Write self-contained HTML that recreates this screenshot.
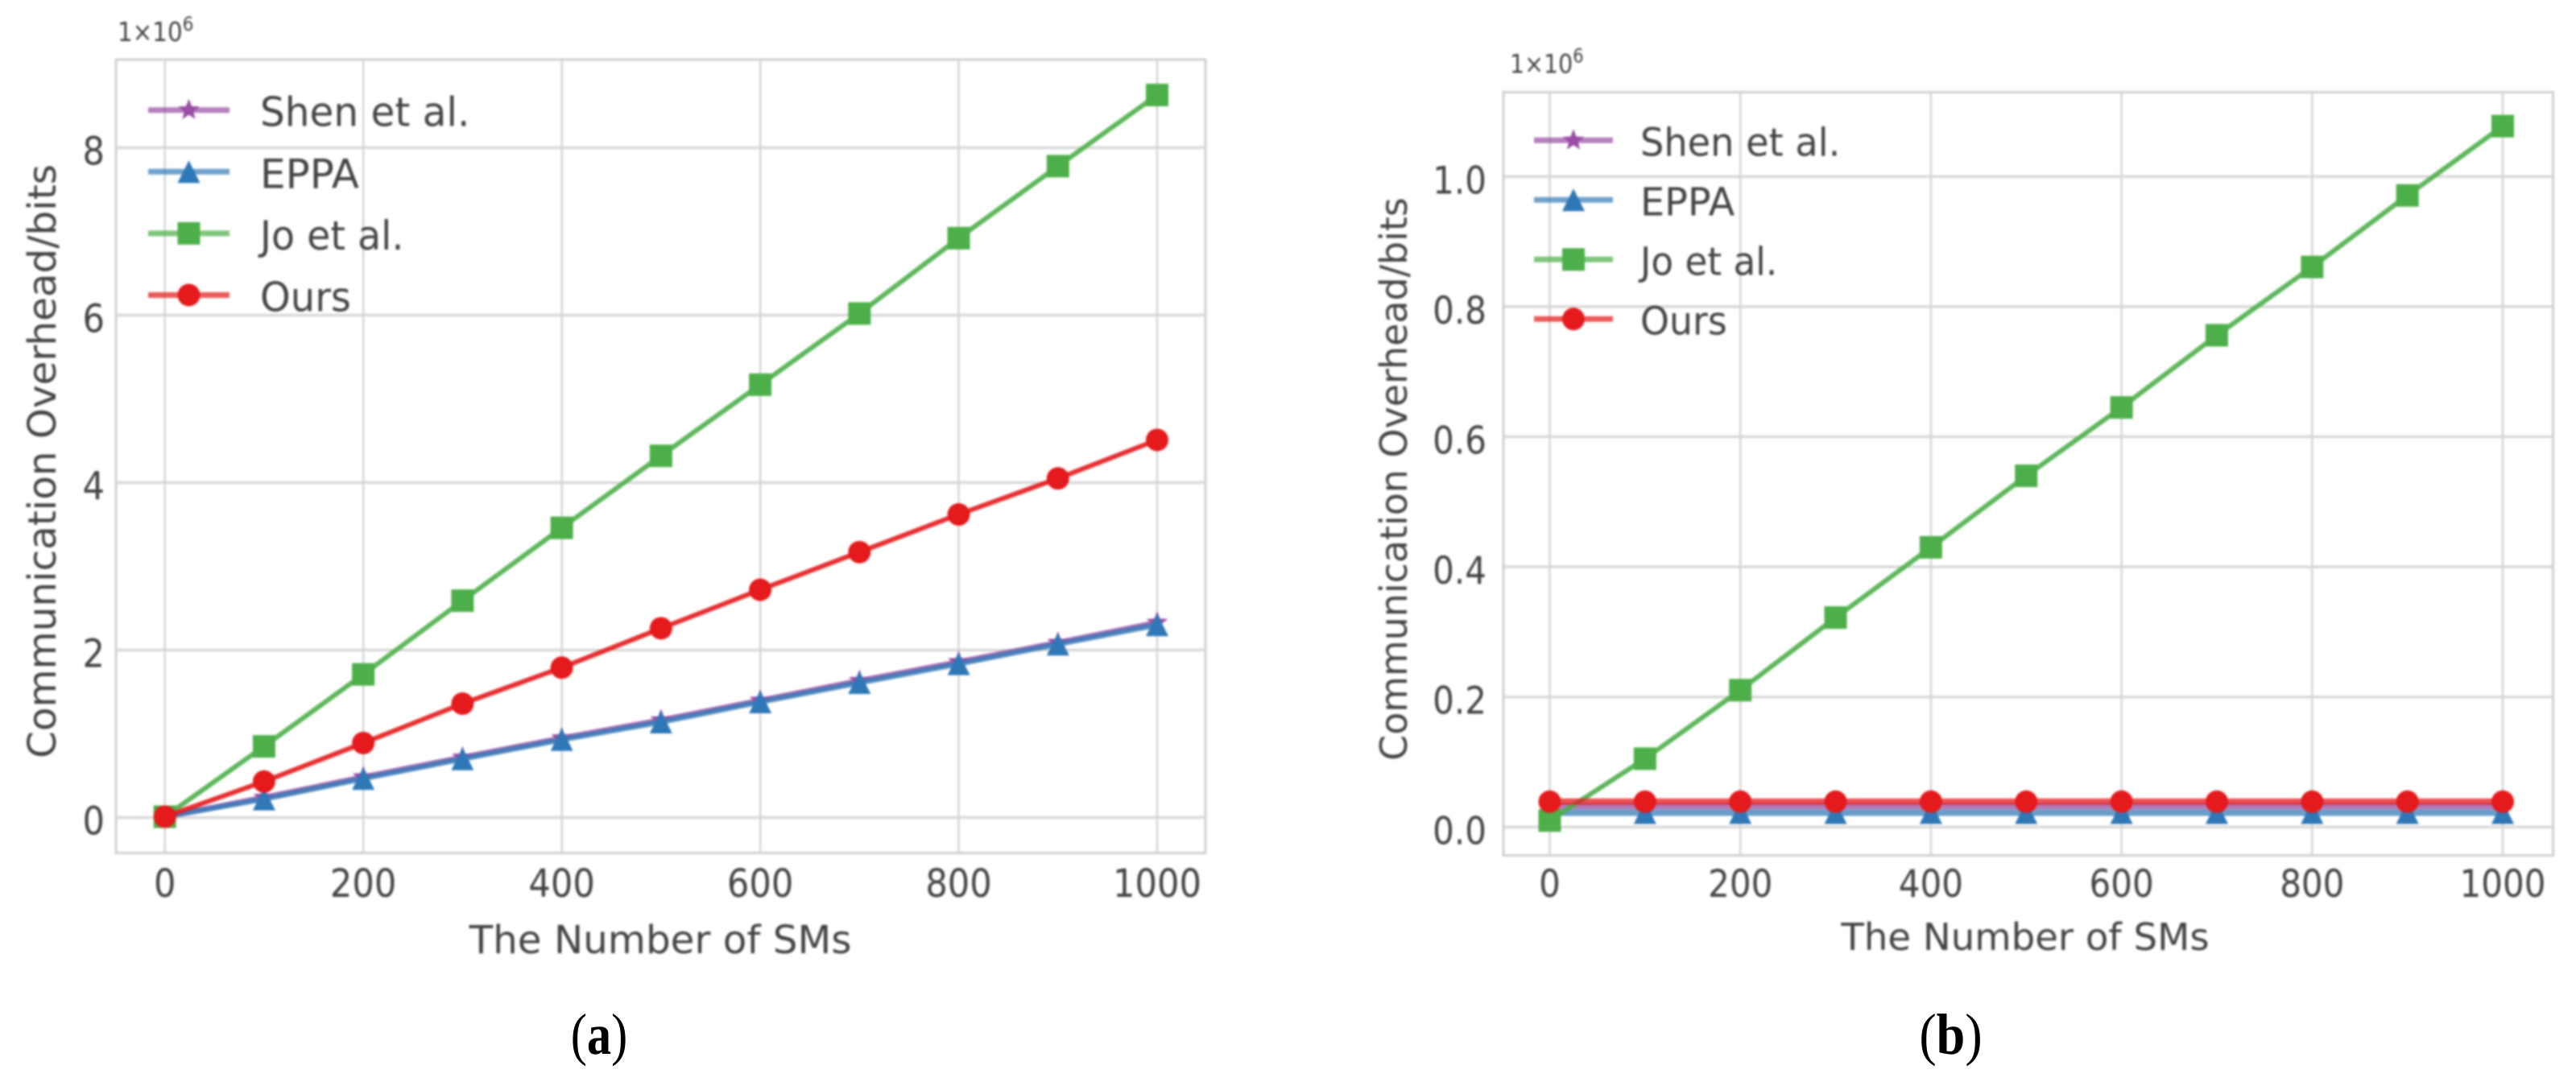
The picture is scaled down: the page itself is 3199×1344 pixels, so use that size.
<!DOCTYPE html>
<html lang="en">
<head>
<meta charset="utf-8">
<title>Communication overhead comparison</title>
<style>
  html, body { margin: 0; padding: 0; background: #ffffff; }
  #figure { display: block; width: 3199px; height: 1344px; }
  #figure text { font-family: "DejaVu Sans", "Liberation Sans", sans-serif; fill: #444444; }
  #figure text.caption { font-family: "Liberation Serif", serif; fill: #000000; }
  .soft { filter: blur(1.2px); }
</style>
</head>
<body>
<svg id="figure" xmlns="http://www.w3.org/2000/svg" width="3199" height="1344" viewBox="0 0 3199 1344">
  <rect x="0" y="0" width="3199" height="1344" fill="#ffffff"></rect>
  <g id="panel-a" class="soft"></g>
  <g id="panel-b" class="soft"></g>
  <text class="caption" transform="translate(744,1309) scale(0.84,1)" x="0" y="0" font-size="72" text-anchor="middle">(<tspan font-weight="bold">a</tspan>)</text>
  <text class="caption" transform="translate(2422.5,1309) scale(0.89,1)" x="0" y="0" font-size="72" text-anchor="middle">(<tspan font-weight="bold">b</tspan>)</text>
</svg>
<script>
// ---- data ----
const smCounts = [0, 100, 200, 300, 400, 500, 600, 700, 800, 900, 1000];
const xTickLabels = [0, 200, 400, 600, 800, 1000];
const seriesNames = ['Shen et al.', 'EPPA', 'Jo et al.', 'Ours'];

// Panel (a), in units of 1e6 bits
const panelAShen = [0.01, 0.24, 0.485, 0.72, 0.95, 1.165, 1.40, 1.635, 1.86, 2.09, 2.33];
const panelAEppa = [0.01, 0.22, 0.465, 0.70, 0.93, 1.14, 1.38, 1.61, 1.835, 2.07, 2.30];
const panelAJo = [0.01, 0.85, 1.71, 2.59, 3.46, 4.32, 5.17, 6.02, 6.92, 7.78, 8.63];
const panelAOurs = [0.01, 0.43, 0.89, 1.36, 1.79, 2.26, 2.72, 3.17, 3.62, 4.05, 4.51];
const panelAYTicks = ['0', '2', '4', '6', '8'];

// Panel (b), in units of 1e6 bits
const panelBShen = [0.032, 0.032, 0.032, 0.032, 0.032, 0.032, 0.032, 0.032, 0.032, 0.032, 0.032];
const panelBEppa = [0.022, 0.022, 0.022, 0.022, 0.022, 0.022, 0.022, 0.022, 0.022, 0.022, 0.022];
const panelBJo = [0.01, 0.105, 0.2104, 0.322, 0.43, 0.54, 0.645, 0.756, 0.861, 0.971, 1.0775];
const panelBOurs = [0.039, 0.039, 0.039, 0.039, 0.039, 0.039, 0.039, 0.039, 0.039, 0.039, 0.039];
const panelBYTicks = ['0.0', '0.2', '0.4', '0.6', '0.8', '1.0'];

// ---- drawing ----
const NS = 'http://www.w3.org/2000/svg';
const colors = ['#984ea3', '#377eb8', '#4daf4a', '#e41a1c'];
const markerColors = ['#984ea3', '#2f78b7', '#4daf4a', '#e41a1c'];
const shapes = ['star', 'triangle', 'square', 'circle'];
const slugs = ['shen', 'eppa', 'jo', 'ours'];
const legendSqueeze = [0.97, 1, 0.95, 0.96];

function make(parent, tag, attrs, content) {
  const el = document.createElementNS(NS, tag);
  for (const k in attrs) el.setAttribute(k, attrs[k]);
  if (content !== undefined) el.textContent = content;
  parent.appendChild(el);
  return el;
}

function makeText(parent, x, y, squeeze, attrs, content) {
  const el = make(parent, 'text', attrs, content);
  el.setAttribute('x', 0);
  el.setAttribute('y', 0);
  el.setAttribute('transform', 'translate(' + x + ',' + y + ') scale(' + squeeze + ',1)');
  return el;
}

function drawMarker(parent, shape, cx, cy, color) {
  let el;
  const r = 14;
  if (shape === 'circle') {
    el = make(parent, 'circle', { cx: cx, cy: cy, r: r, fill: color });
  } else if (shape === 'square') {
    el = make(parent, 'rect', { x: cx - r, y: cy - r, width: 2 * r, height: 2 * r, fill: color });
  } else if (shape === 'triangle') {
    el = make(parent, 'polygon', {
      points: cx + ',' + (cy - r) + ' ' + (cx - r) + ',' + (cy + r) + ' ' + (cx + r) + ',' + (cy + r),
      fill: color
    });
  } else {
    const pts = [];
    for (let i = 0; i < 10; i++) {
      const rad = i % 2 === 0 ? r : r * 0.42;
      const a = -Math.PI / 2 + i * Math.PI / 5;
      pts.push((cx + rad * Math.cos(a)).toFixed(1) + ',' + (cy + rad * Math.sin(a)).toFixed(1));
    }
    el = make(parent, 'polygon', { points: pts.join(' '), fill: color });
  }
  
  
  return el;
}

function drawPanel(cfg) {
  const root = document.getElementById(cfg.id);
  const xAxis = v => cfg.x0 + cfg.xScale * v;
  const yAxis = v => cfg.y0 - cfg.yScale * v;
  const gridColor = '#d6d6d6';

  xTickLabels.forEach(t => {
    const line = make(root, 'line', { x1: xAxis(t), x2: xAxis(t), y1: cfg.top, y2: cfg.bottom, stroke: gridColor, 'stroke-width': 2.6 });
    
    
    const label = makeText(root, xAxis(t), 1114, cfg.tickSqueeze, { 'font-size': cfg.tickFont, 'text-anchor': 'middle' }, String(t));
    
    
  });

  cfg.yTicks.forEach(t => {
    const v = parseFloat(t);
    const line = make(root, 'line', { x1: cfg.left, x2: cfg.right, y1: yAxis(v), y2: yAxis(v), stroke: gridColor, 'stroke-width': 3.2 });
    
    
    const label = makeText(root, cfg.yLabelRight, yAxis(v) + 21, cfg.tickSqueeze, { 'font-size': cfg.tickFont, 'text-anchor': 'end' }, t);
    
    
  });

  const frame = make(root, 'rect', { x: cfg.left, y: cfg.top, width: cfg.right - cfg.left, height: cfg.bottom - cfg.top, fill: 'none', stroke: '#d0d0d0', 'stroke-width': 3 });
  
  

  cfg.series.forEach((values, s) => {
    const group = make(root, 'g', {});
    
    
    const pts = values.map((v, i) => xAxis(smCounts[i]).toFixed(1) + ',' + yAxis(v).toFixed(1)).join(' ');
    const line = make(group, 'polyline', {
      points: pts, fill: 'none', stroke: colors[s], 'stroke-opacity': cfg.lineOpacity[s],
      'stroke-width': cfg.lineWidth[s], 'stroke-linejoin': 'round'
    });
    
    
    values.forEach((v, i) => drawMarker(group, shapes[s], xAxis(smCounts[i]), yAxis(v), markerColors[s]));
  });

  seriesNames.forEach((name, s) => {
    const y = cfg.legendY + s * cfg.legendStep;
    const entry = make(root, 'g', {});
    
    
    const handle = make(entry, 'line', { x1: cfg.legendX1, x2: cfg.legendX2, y1: y, y2: y, stroke: colors[s], 'stroke-opacity': 0.72, 'stroke-width': 7 });
    
    
    drawMarker(entry, shapes[s], (cfg.legendX1 + cfg.legendX2) / 2, y, markerColors[s]);
    const label = makeText(entry, cfg.legendTextX, y + cfg.legendBaseline, legendSqueeze[s], { 'font-size': cfg.legendFont }, name);
    
    
  });

  const xTitle = make(root, 'text', { x: cfg.xTitleX, y: cfg.xTitleY, 'font-size': cfg.titleFontX, 'text-anchor': 'middle' }, 'The Number of SMs');
  
  

  const yTitle = make(root, 'text', {
    x: 0, y: 0, 'font-size': cfg.titleFontY, 'text-anchor': 'middle',
    transform: 'translate(' + cfg.yTitleX + ',' + cfg.yTitleY + ') rotate(-90)'
  }, 'Communication Overhead/bits');
  
  

  const offset = makeText(root, cfg.offsetX, cfg.offsetY, cfg.offsetSqueeze, { 'font-size': cfg.offsetFont }, '1×10');
  
  
  const exponent = make(offset, 'tspan', { dy: -13, 'font-size': cfg.offsetFont * 0.74 }, '6');
  
  
}

drawPanel({
  id: 'panel-a',
  series: [panelAShen, panelAEppa, panelAJo, panelAOurs],
  yTicks: panelAYTicks,
  left: 144, right: 1497, top: 74, bottom: 1059.5,
  x0: 204.7, xScale: 1.2323,
  y0: 1015.5, yScale: 104,
  tickFont: 48, tickSqueeze: 0.9, yLabelRight: 130,
  lineWidth: [6.5, 6.5, 6, 6], lineOpacity: [0.85, 0.85, 0.9, 0.9],
  legendX1: 184, legendX2: 285, legendY: 136.7, legendStep: 76.6,
  legendTextX: 323, legendBaseline: 20, legendFont: 50,
  xTitleX: 820, xTitleY: 1184, titleFontX: 48.4,
  yTitleX: 69, yTitleY: 573, titleFontY: 48.4,
  offsetX: 146, offsetY: 51, offsetFont: 33, offsetSqueeze: 0.89
});

drawPanel({
  id: 'panel-b',
  series: [panelBShen, panelBEppa, panelBJo, panelBOurs],
  yTicks: panelBYTicks,
  left: 1867, right: 3170.5, top: 114.5, bottom: 1062.5,
  x0: 1924.5, xScale: 1.1835,
  y0: 1027.3, yScale: 808,
  tickFont: 47.5, tickSqueeze: 0.885, yLabelRight: 1846,
  lineWidth: [8, 8, 6, 8], lineOpacity: [0.75, 0.75, 0.9, 0.75],
  legendX1: 1905, legendX2: 2003, legendY: 174.3, legendStep: 74,
  legendTextX: 2037, legendBaseline: 19, legendFont: 47.7,
  xTitleX: 2515, xTitleY: 1180, titleFontX: 46.6,
  yTitleX: 1747, yTitleY: 595, titleFontY: 45.9,
  offsetX: 1875, offsetY: 90.7, offsetFont: 32, offsetSqueeze: 0.89
});
</script>
</body>
</html>
